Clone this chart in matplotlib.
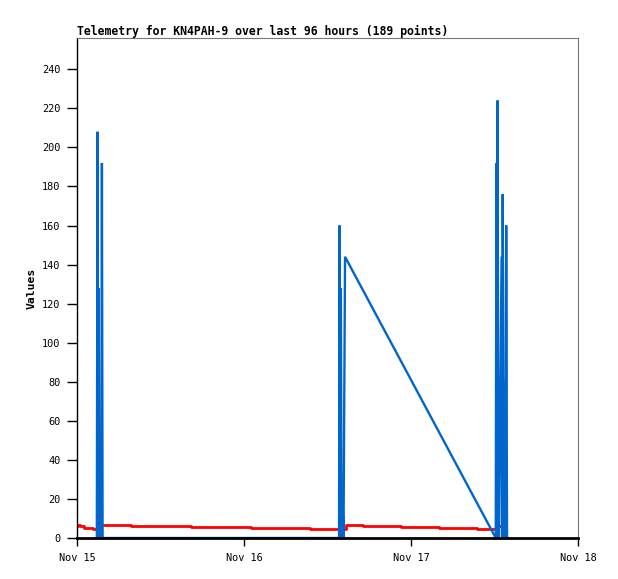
import numpy as np
import pandas as pd
import matplotlib
matplotlib.use("Agg")
import matplotlib.pyplot as plt

# hours after Nov 15 00:00
start = pd.Timestamp("2024-11-15")

blue_hours = [2.85, 2.95, 3.05, 3.12, 3.22, 3.50, 3.58, 3.68,
              37.66, 37.74, 37.84, 37.92, 38.02, 38.18, 38.30, 38.52,
              60.18, 60.28, 60.36, 60.45, 60.55, 60.65, 61.02, 61.10,
              61.18, 61.37, 61.45, 61.52, 61.60, 61.68, 61.80, 61.90]
blue_vals = [0, 208, 0, 128, 0, 0, 192, 0,
             0, 160, 0, 128, 0, 16, 0, 144,
             0, 192, 0, 224, 0, 0, 144, 0,
             176, 0, 80, 0, 0, 160, 0, 0]

red_hours = [0.0, 0.15, 0.4, 1.0, 2.3, 3.2, 7.76, 16.4, 25.0, 33.5,
             38.6, 41.1, 46.6, 52.0, 57.5, 60.55, 60.9]
red_vals = [6.2, 6.9, 6.2, 5.1, 4.6, 6.7, 6.2, 5.6, 5.0, 4.5,
            6.7, 6.2, 5.6, 5.0, 4.5, 6.2, 6.2]

xtick_labels = ["Nov 15", "Nov 16", "Nov 17", "Nov 18"]

blue_t = start + pd.to_timedelta(blue_hours, unit="h")
red_t = start + pd.to_timedelta(red_hours, unit="h")

mono = "DejaVu Sans Mono"
fig = plt.figure(figsize=(6.18, 5.79), dpi=100)
ax = fig.add_axes([77 / 618, 1 - 538 / 579, 501 / 618, 500 / 579])

ax.plot(red_t, red_vals, color="#ff0000", lw=2.0, drawstyle="steps-post", zorder=2)
ax.plot(blue_t, blue_vals, color="#0066cc", lw=1.7, solid_joinstyle="bevel", zorder=3)

ax.set_xlim(start, start + pd.Timedelta(days=3))
ax.set_ylim(0, 256)
ax.set_yticks(np.arange(0, 241, 20))
ax.set_xticks(pd.date_range(start, periods=4, freq="D"))
ax.set_xticklabels(xtick_labels)

for lbl in ax.get_xticklabels() + ax.get_yticklabels():
    lbl.set_fontfamily(mono)
    lbl.set_fontsize(7.4)

ax.tick_params(axis="y", length=7, width=1, pad=5, direction="out")
ax.tick_params(axis="x", length=6, width=1, pad=5, direction="out")

for s in ["top", "right"]:
    ax.spines[s].set_color("#777777")
    ax.spines[s].set_linewidth(0.8)
ax.spines["left"].set_color("black")
ax.spines["left"].set_linewidth(1.0)
ax.spines["bottom"].set_color("black")
ax.spines["bottom"].set_linewidth(2.0)
ax.spines["bottom"].set_zorder(4)

ax.set_title("Telemetry for KN4PAH-9 over last 96 hours (189 points)",
             loc="left", fontfamily=mono, fontsize=8.3, fontweight="bold", pad=2)
ax.set_ylabel("Values", fontfamily=mono, fontsize=8.2, fontweight="bold")
ax.yaxis.set_label_coords(-0.08, 0.5)

fig.savefig("out.png", dpi=100)
